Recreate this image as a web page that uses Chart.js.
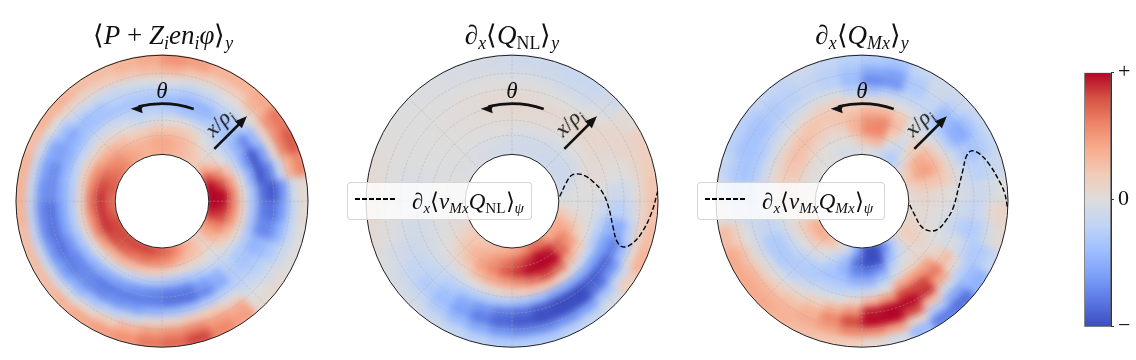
<!DOCTYPE html>
<html><head><meta charset="utf-8">
<script src="https://cdn.jsdelivr.net/npm/chart.js@4"></script>
<style>
html,body{margin:0;padding:0;background:#fff;width:1136px;height:360px;overflow:hidden}
canvas{position:absolute}
.heat{filter:blur(3.5px);clip-path:circle(146.5px at 150px 149.8px)}
.t{position:absolute;font-family:"Liberation Serif",serif;color:#111;white-space:nowrap;line-height:1;z-index:5}
.t i{font-style:italic}
.t sub{font-size:66%;vertical-align:-0.28em;line-height:0}
.t sub sub{font-size:75%}
.title{font-size:27px;top:22px;transform:translateX(-50%)}
.th{font-size:23px;font-style:italic;top:79px;transform:translateX(-50%)}
.xr{font-size:22px;transform:translate(-50%,-50%) rotate(-45deg)}
.leg{position:absolute;box-sizing:border-box;top:182px;height:38px;background:rgba(255,255,255,.8);border:1px solid rgba(204,204,204,.8);border-radius:4px;z-index:4}
.leg b{position:absolute;left:7px;top:15px;width:42px;height:1.5px;background:repeating-linear-gradient(90deg,#000 0 5px,transparent 5px 7px)}
.leg span{left:64px;top:7px;font-size:23px}
</style></head><body>
<canvas id="h0" class="heat" width="300" height="300" style="left:12px;top:51px;width:300px;height:300px"></canvas>
<canvas id="h1" class="heat" width="300" height="300" style="left:362px;top:51px;width:300px;height:300px"></canvas>
<canvas id="h2" class="heat" width="300" height="300" style="left:712px;top:51px;width:300px;height:300px"></canvas>
<canvas id="o0" width="300" height="300" style="left:12px;top:51px;width:300px;height:300px"></canvas>
<canvas id="o1" width="300" height="300" style="left:362px;top:51px;width:300px;height:300px"></canvas>
<canvas id="o2" width="300" height="300" style="left:712px;top:51px;width:300px;height:300px"></canvas>
<canvas id="cb" width="76" height="300" style="left:1060px;top:50px;width:76px;height:300px"></canvas>

<div class="t title" style="left:163px">⟨<i>P</i> + <i>Z<sub>i</sub>en<sub>i</sub>φ</i>⟩<sub><i>y</i></sub></div>
<div class="t title" style="left:512px">∂<sub><i>x</i></sub>⟨<i>Q</i><sub>NL</sub>⟩<sub><i>y</i></sub></div>
<div class="t title" style="left:862px">∂<sub><i>x</i></sub>⟨<i>Q<sub>Mx</sub></i>⟩<sub><i>y</i></sub></div>
<div class="t th" style="left:162px">θ</div><div class="t th" style="left:512px">θ</div><div class="t th" style="left:862px">θ</div>
<div class="t xr" style="left:219px;top:122px"><i>x</i>/<i>ρ<sub>i</sub></i></div>
<div class="t xr" style="left:569px;top:122px"><i>x</i>/<i>ρ<sub>i</sub></i></div>
<div class="t xr" style="left:919px;top:122px"><i>x</i>/<i>ρ<sub>i</sub></i></div>
<div class="leg" style="left:347px;width:185px"><b></b><span class="t">∂<sub><i>x</i></sub>⟨<i>v<sub>Mx</sub>Q</i><sub>NL</sub>⟩<sub><i>ψ</i></sub></span></div>
<div class="leg" style="left:697px;width:188px"><b></b><span class="t">∂<sub><i>x</i></sub>⟨<i>v<sub>Mx</sub>Q<sub>Mx</sub></i>⟩<sub><i>ψ</i></sub></span></div>

<script>
// Each row is one angular sector (theta centre 5,15,...,355 deg, counter-clockwise from east);
// each column one radial ring from inner to outer. Values on the colour scale -10..+10.
const fieldP = [
[10,8.5,5,.5,-3,-7,-8,-5.5,-1,.5],
[9.5,7,4,0,-4,-8,-6.5,-1.5,3,5],
[7,5,2,-1.5,-5,-8,-5,.5,5,6.5],
[4,2,0,-2,-4,-6,-3.5,1,4.5,5.5],
[1.5,.5,-.5,-2,-3,-3,-1.5,.5,3,3.5],
[2,1.5,0,-1,-2.5,-3,-1.5,0,1.5,3],
[2.5,2.5,1.5,-.5,-3,-4,-2,-.5,1.5,3],
[3,3,2,0,-3,-4,-2.5,-.5,2,4],
[3.5,3.5,2,0,-2.5,-3.5,-2,0,3,4.5],
[3.5,3.5,2,-.5,-2,-3,-2,0,2.5,3.5],
[3,3,1.5,-1,-2,-3,-2,-.5,2,3],
[3.5,3,1.5,0,-1.5,-3,-2,-1,1.5,2.5],
[4,3.5,2.5,.5,-1,-3,-3,-1,1,2.5],
[5,4.5,3,1,-1,-3,-3.5,-1.5,1,3],
[5.5,5,3.5,1,-1.5,-3.5,-4.5,-3,0,3],
[6,6,4.5,1.5,-1.5,-4,-5,-4.5,-1,2.5],
[6.5,7,5,1.5,-2,-4,-6,-5,-1.5,3],
[6,7.5,5.5,1,-2.5,-4.5,-6,-5.5,-1.5,3],
[6,7.5,5.5,1,-2.5,-5,-7,-6,-2,3],
[6.5,7.5,5,1,-2.5,-5,-7,-6,-2,2.5],
[7,7.5,5,.5,-3,-5.5,-7,-5.5,-1.5,2.5],
[7,7,4,0,-3.5,-6,-6.5,-5,-1,2.5],
[7,6.5,3,-.5,-4,-6,-6,-4,-.5,3],
[7,6,3,-1,-4.5,-6.5,-6,-3,.5,3.5],
[7,5.5,2.5,-1.5,-5,-6.5,-5.5,-2,1.5,4],
[7,5.5,2,-2,-5.5,-6.5,-5,-1,3,4.5],
[6.5,5,1.5,-2.5,-6,-6.5,-4,.5,4,5.5],
[6,4.5,1,-3,-6.5,-7,-3.5,1,4.5,6],
[5,3.5,.5,-3,-6.5,-7,-3,1.5,5,7],
[3.5,2.5,.5,-2.5,-5,-6,-2.5,1.5,4,5],
[2.5,2,.5,-1.5,-4,-4.5,-2,.5,3.5,4],
[1,1,0,-1,-2,-2.5,-2,-1,0,.5],
[3.5,3,1.5,-.5,-2.5,-3,-2.5,-1.5,-.5,.5],
[5,5,3,.5,-2.5,-4,-3.5,-2.5,-1,0],
[7.5,7,4.5,1,-3,-6,-6,-4,-1.5,0],
[9.5,8,5,1,-3,-6.5,-7,-5,-1.5,.5]
];
const fieldNL = [
[-.5,0,0,0,-.3,-.8,-1,-.3,1,2],
[-1,-.5,0,.3,.3,0,0,.3,1,1.5],
[-1,-1,-.5,.3,.5,.5,.5,.8,1,1.2],
[-1,-1,-.5,0,.5,.8,.8,.7,.5,.3],
[-1,-1,-.5,0,.5,.8,.5,0,-.5,-.8],
[-1,-.8,-.5,0,.5,.5,0,-.5,-1,-1.2],
[-.8,-.8,-.3,.2,.5,.5,0,-.5,-1,-1.2],
[-.8,-.8,-.3,.3,.5,.5,.2,-.3,-.8,-1],
[-.8,-.7,-.2,.3,.6,.6,.3,-.2,-.7,-1],
[-.7,-.5,0,.3,.5,.5,.3,-.1,-.5,-.7],
[-.6,-.4,0,.2,.4,.4,.2,0,-.4,-.5],
[-.5,-.3,0,.2,.3,.3,.2,0,-.3,-.4],
[-.4,-.3,-.1,.1,.2,.2,.1,0,-.2,-.2],
[-.3,-.2,-.1,0,.1,.1,0,0,-.1,-.1],
[-.2,-.2,-.1,0,0,0,0,0,0,0],
[-.1,-.1,-.1,-.1,-.1,-.1,0,0,.1,.1],
[0,0,-.1,-.2,-.3,-.3,-.2,0,.2,.3],
[.1,0,-.1,-.3,-.4,-.4,-.3,-.1,.3,.5],
[.2,.1,-.1,-.3,-.5,-.6,-.4,-.1,.3,.6],
[.3,.2,0,-.3,-.5,-.7,-.6,-.3,.1,.4],
[.5,.3,0,-.3,-.5,-.8,-1,-.8,-.5,-.2],
[1.5,1,.5,0,-.5,-1,-1.5,-1.5,-1,-.5],
[1.8,2,1.5,.5,-.5,-1.5,-2,-2.5,-1.5,-.5],
[2,3,2.5,1,-.5,-2,-3,-3.5,-2.5,-1],
[2.5,3.5,4,2.5,0,-2.5,-4.5,-5,-3.5,-1.5],
[3,4.5,5,3.5,.5,-2.5,-5.5,-6.5,-4.5,-2],
[3.5,5.5,6.5,4,1,-2.5,-6.5,-7.5,-5.5,-2.5],
[4,6.5,7.5,5,1.5,-3,-7,-8,-6,-2.5],
[5,7.5,9,6,2,-3.5,-8,-8.5,-6,-2.5],
[6,8.5,10,7,2,-4.5,-8.5,-9,-5.5,-2],
[5.5,8,9,6,1,-4.5,-9,-8.5,-5,-1.5],
[3.5,6,6,3,-.5,-4.5,-8,-7,-3,-.5],
[3.5,5,4,1.5,-1.5,-5,-7.5,-5.5,-1.5,1.5],
[3.5,3,1.5,0,-2.5,-5,-6.5,-3.5,.5,3],
[2,1,.5,-.3,-2,-4,-4.5,-2,1,2.5],
[.5,0,0,-.3,-1,-2,-2,-.8,1,2.2]
];
const fieldMx = [
[.5,1,.5,.3,0,-.5,-1,-1,-.5,0],
[1,2,2,2,1,-.5,-1.5,-2,-1.5,-1],
[2,3.5,4,3,1,-1,-2.5,-3,-2.5,-1.5],
[1,3,3.5,2.5,.5,-2,-4,-4.5,-3,-1.5],
[-1,.5,1.5,1,-.5,-2,-3.5,-3.5,-2,-1],
[-2.5,-1.5,-.5,0,0,-.5,-1.5,-1.5,-1,-.8],
[-1.5,-.5,1.5,2.5,2,0,-1.5,-2.5,-2.5,-1.5],
[-.5,3,5,5,3,.5,-2,-5.5,-5,-3],
[0,2.5,5,4.5,3,.3,-3,-6,-4.5,-2.5],
[-.5,1,3,3,2,.5,-2,-3.5,-3,-2],
[-.5,0,1,2,2,1,-.5,-2,-2,-1.5],
[-.5,0,.5,1.5,2,1,-.5,-1.5,-1.5,-1],
[0,0,1,2,2,.5,-1,-2,-2,-1.5],
[0,.3,1.5,2.5,1.5,-.3,-1.5,-2.5,-2.5,-1.5],
[0,.5,2,2.5,1,-.5,-2,-3,-3,-2],
[0,.5,2,2,.8,-1,-2.5,-3,-3,-2],
[0,.5,1.5,1.5,.5,-1,-2.5,-3,-2.5,-1.5],
[0,.5,1,.8,0,-1,-2,-2.5,-2,-1],
[.3,.5,.5,0,-.5,-1,-1.5,-1,-.5,.3],
[1,1,.3,-.5,-1.5,-1.5,-1,0,1.5,2.5],
[3,2,.5,-1,-2.5,-2.5,-1,.5,2.5,3.5],
[3.5,2,0,-1.5,-2.5,-2.5,-.5,1,3,3.5],
[3,1.5,-.5,-2,-2.5,-2,-.3,1.5,3,3.5],
[2,0,-1,-2.5,-2.5,-1,.5,2,3,3],
[.3,-1.5,-2.5,-3,-2,-.5,1.5,3,3.5,2.5],
[-1.5,-3.5,-4,-3,-2,0,3,5,4,2],
[-5,-7,-6,-4,-1.5,1,4.5,7,5,1.5],
[-9,-9.5,-6.5,-4,-1,3,8,9,5,.5],
[-10,-9,-5.5,-2.5,0,4.5,10,10,4,-.5],
[-6,-4,-2,-.5,3.5,7,9.5,7,1,-3.5],
[-2.5,-1.5,-.3,1,4,7,7.5,2.5,-2.5,-6.5],
[.5,.5,.5,1,4,5.5,3.5,-1,-4.5,-7],
[1.5,1.5,.8,.5,1,2.5,.5,-2,-3.5,-4],
[1,.8,.3,0,-.5,-.3,-1.5,-2.5,-2.5,-1.5],
[.5,.3,0,-.3,-1,-2,-2.5,-2,-.5,.5],
[.3,.5,.3,0,-.5,-1,-1.5,-1,.5,1]
];
// Dashed profiles: radius and poloidal angle (deg)
const curveNLr  = [47.9,57.5,64.6,70.5,77,83.3,90,96,104,112.5,120,126.8,133.3,139.9,146];
const curveNLth = [5.6,19,23.4,22.8,19.4,13.6,6.8,-2.2,-14,-21,-22.4,-19.8,-13.9,-4.9,3.8];
const curveMxr  = [47.8,54.4,64.5,73.9,81,86.4,91.3,96.7,105.7,113.5,120.3,126.8,132.7,139,142.9,145.4];
const curveMxth = [-4.4,-14.5,-23.1,-23.7,-20.2,-12.5,-4.4,6.7,17.2,23.2,24.7,21.9,15.9,8.1,3.2,-2.1];
const gridRadii = [66,81,96,112,128];
const gridAngles = [0,45,90,135,180,225,270,315];
const cbTicks = [-1,0,1];
const cbLabels = {'-1':'\u2212','0':'0','1':'+'};
const cmap = [[59,76,192],[90,119,227],[123,159,249],[158,190,255],[192,212,245],[221,220,220],[242,203,183],[247,172,142],[238,132,104],[214,82,68],[180,4,38]];

const R = 146, Rin = 46.8, TAU = Math.PI*2, gain = 1.18;
function colour(v){
  const t = (Math.max(-10,Math.min(10,v*gain))+10)/2, i = Math.min(9,Math.floor(t)), f = t-i;
  const c = cmap[i].map((a,k)=>Math.round(a+(cmap[i+1][k]-a)*f));
  return `rgb(${c[0]},${c[1]},${c[2]})`;
}
Chart.defaults.animation = false;
Chart.defaults.responsive = false;

function heat(id, field){
  const nR = field[0].length, datasets = [];
  const rr = 149.8, cc = 43, step = (R-Rin)/nR;
  for(let k=nR-1;k>=0;k--){
    const cols = field.map(row=>colour(row[k])).reverse();
    const edge = (k===0 ? Rin-cc : 0) + (k===nR-1 ? rr-R : 0);
    datasets.push({data:cols.map(()=>1),backgroundColor:cols,borderColor:cols,borderWidth:.6,weight:step+edge});
  }
  new Chart(document.getElementById(id),{type:'doughnut',
    data:{labels:field.map((_,i)=>String(5+10*i)).reverse(),datasets},
    options:{rotation:90,radius:rr,cutout:cc,layout:{padding:0},plugins:{legend:{display:false},tooltip:{enabled:false}}}});
}
heat('h0',fieldP); heat('h1',fieldNL); heat('h2',fieldMx);

const rad = d=>d*Math.PI/180;
const overlayPlugin = {id:'overlay',
  beforeDatasetsDraw(c){
    const g=c.ctx,X=c.scales.x,Y=c.scales.y,x0=X.getPixelForValue(0),y0=Y.getPixelForValue(0),u=X.getPixelForValue(1)-x0;
    g.save();
    // hole of the annulus
    g.fillStyle='#fff';g.beginPath();g.arc(x0,y0,Rin*u,0,TAU);g.fill();
    // grid
    g.strokeStyle='rgba(170,170,170,.6)';g.lineWidth=.7;g.setLineDash([2.5,1.5]);
    gridRadii.forEach(r=>{g.beginPath();g.arc(x0,y0,r*u,0,TAU);g.stroke();});
    gridAngles.forEach(a=>{g.beginPath();g.moveTo(x0+Rin*u*Math.cos(rad(a)),y0-Rin*u*Math.sin(rad(a)));g.lineTo(x0+R*u*Math.cos(rad(a)),y0-R*u*Math.sin(rad(a)));g.stroke();});
    g.setLineDash([]);
    g.strokeStyle='#222';g.lineWidth=1;
    g.beginPath();g.arc(x0,y0,R*u,0,TAU);g.stroke();
    g.beginPath();g.arc(x0,y0,Rin*u,0,TAU);g.stroke();
    // theta arrow
    g.strokeStyle='#111';g.fillStyle='#111';g.lineWidth=2.6;
    g.beginPath();g.arc(x0,y0,97.5*u,rad(-71),rad(-104),true);g.stroke();
    const tx=x0+97.5*u*Math.cos(rad(108.7)),ty=y0-97.5*u*Math.sin(rad(108.7));
    g.beginPath();g.moveTo(tx,ty);g.lineTo(tx+13,ty-4.6);g.lineTo(tx+11,ty+.5);g.lineTo(tx+12,ty+4.5);g.closePath();g.fill();
    // radial arrow
    const a=rad(45),ca=Math.cos(a),sa=Math.sin(a);
    g.lineWidth=2.6;g.beginPath();g.moveTo(x0+74*u*ca,y0-74*u*sa);g.lineTo(x0+112*u*ca,y0-112*u*sa);g.stroke();
    const px=x0+120*u*ca,py=y0-120*u*sa;
    g.beginPath();g.moveTo(px,py);g.lineTo(px-ca*12-sa*5,py+sa*12-ca*5);g.lineTo(px-ca*12+sa*5,py+sa*12+ca*5);g.closePath();g.fill();
    g.restore();
  }};
function overlay(id, rs, ths){
  const ds = rs ? [{data:rs.map((r,i)=>({x:r*Math.cos(rad(ths[i])),y:r*Math.sin(rad(ths[i]))})),showLine:true,tension:.4,pointRadius:0,borderColor:'#000',borderWidth:1.4,borderDash:[5,2.5],clip:false}] : [];
  new Chart(document.getElementById(id),{type:'scatter',data:{datasets:ds},plugins:[overlayPlugin],
    options:{layout:{padding:0},plugins:{legend:{display:false},tooltip:{enabled:false}},
      scales:{x:{type:'linear',display:false,min:-150,max:150},y:{type:'linear',display:false,min:-149.8,max:150.2}}}});
}
overlay('o0'); overlay('o1',curveNLr,curveNLth); overlay('o2',curveMxr,curveMxth);

new Chart(document.getElementById('cb'),{type:'bar',
  data:{labels:['c'],datasets:[{data:[[cbTicks[0],cbTicks[2]]],barPercentage:1,categoryPercentage:1,borderWidth:1,borderColor:'#555',borderSkipped:false,
    backgroundColor(ctx){const a=ctx.chart.chartArea;if(!a)return '#ddd';
      const gr=ctx.chart.ctx.createLinearGradient(0,a.bottom,0,a.top);cmap.forEach((c,i)=>gr.addColorStop(i/10,`rgb(${c})`));return gr;}}]},
  options:{layout:{padding:{left:24.3,top:22.7,bottom:23.3,right:0}},plugins:{legend:{display:false},tooltip:{enabled:false}},
    scales:{x:{display:false,offset:true},
      y:{position:'right',min:-1,max:1,afterFit(s){s.width=25;},afterBuildTicks(s){s.ticks=cbTicks.map(v=>({value:v}));},
        border:{color:'#333',width:1},grid:{drawOnChartArea:false,tickLength:3,color:'#333'},
        ticks:{autoSkip:false,maxRotation:0,padding:4,color:'#111',font:{family:'"Liberation Serif",serif',size:22},callback:v=>cbLabels[String(v)]}}}}});
</script>
</body></html>
